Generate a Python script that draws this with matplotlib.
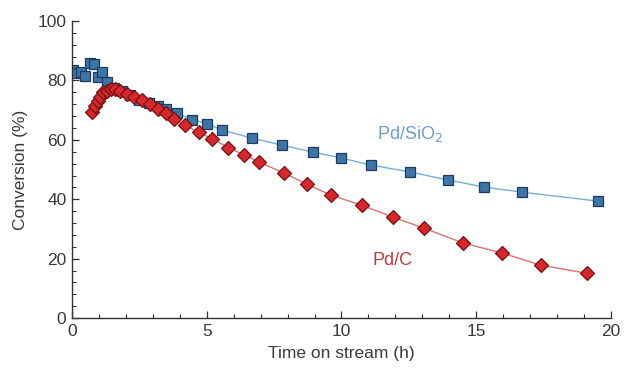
import matplotlib
matplotlib.use("Agg")
import matplotlib.pyplot as plt
from matplotlib.ticker import MultipleLocator

plt.rcParams['font.family'] = ['Liberation Sans', 'DejaVu Sans']

# Pd/SiO2 (blue squares)
sio2_t = [0.05, 0.2, 0.35, 0.5, 0.65, 0.8, 0.95, 1.1, 1.3, 1.55, 1.85, 2.15, 2.5,
          2.85, 3.2, 3.5, 3.9, 4.45, 5.0, 5.57, 6.68, 7.8, 8.93, 10.0, 11.1,
          12.55, 13.95, 15.3, 16.7, 19.5]
sio2_v = [83.5, 82.5, 83.0, 81.5, 86.0, 85.5, 81.0, 83.0, 79.5, 77.5, 76.5, 75.0, 73.5,
          72.5, 71.5, 70.5, 69.0, 66.8, 65.5, 63.3, 60.6, 58.2, 55.9, 53.9, 51.5,
          49.2, 46.5, 44.1, 42.4, 39.4]

# Pd/C (red diamonds)
c_t = [0.75, 0.85, 0.95, 1.05, 1.15, 1.3, 1.45, 1.6, 1.8, 2.05, 2.3, 2.6, 2.9, 3.2,
       3.5, 3.8, 4.2, 4.7, 5.2, 5.8, 6.4, 6.95, 7.87, 8.72, 9.6, 10.76, 11.9, 13.06,
       14.5, 15.96, 17.4, 19.1]
c_v = [69.5, 71.5, 73.0, 74.5, 76.0, 76.5, 77.0, 77.0, 76.5, 75.5, 74.5, 73.5, 72.0,
       70.5, 69.0, 67.0, 65.0, 62.5, 60.4, 57.4, 54.9, 52.5, 48.8, 45.1, 41.4, 38.0,
       34.0, 30.3, 25.3, 21.9, 17.8, 15.1]

line_start_sio2 = 8  # the trend line starts after the early scatter

fig = plt.figure(figsize=(6.26, 3.76), dpi=100)
ax = fig.add_axes([0.115, 0.154, 0.861, 0.79])

ax.plot(sio2_t[line_start_sio2:], sio2_v[line_start_sio2:], '-', color='#7aaed8', lw=1.0, zorder=1)
ax.plot(c_t, c_v, '-', color='#e07070', lw=1.0, zorder=1)

ax.plot(sio2_t, sio2_v, 's', ms=7.6, mfc='#3d75a6', mec='#1d3d5e', mew=0.9, ls='none', zorder=3)
ax.plot(c_t, c_v, 'D', ms=7.3, mfc='#d8262a', mec='#6e1414', mew=0.9, ls='none', zorder=4)

ax.text(12.55, 62, 'Pd/SiO$_2$', color='#6f9fcb', fontsize=13, ha='center', va='center')
ax.text(11.9, 19.5, 'Pd/C', color='#c8393b', fontsize=13, ha='center', va='center')

ax.set_xlim(0, 20)
ax.set_ylim(0, 100)
ax.xaxis.set_major_locator(MultipleLocator(5))
ax.xaxis.set_minor_locator(MultipleLocator(1))
ax.yaxis.set_major_locator(MultipleLocator(20))
ax.yaxis.set_minor_locator(MultipleLocator(4))

for s in ['top', 'right']:
    ax.spines[s].set_visible(False)
for s in ['left', 'bottom']:
    ax.spines[s].set_color('#333333')
    ax.spines[s].set_linewidth(1.0)
    ax.spines[s].set_zorder(5)

ax.tick_params(which='both', direction='in', colors='#333333', labelsize=12.5, labelcolor='#3a3a3a')
ax.tick_params(which='major', length=5, width=0.9, pad=4)
ax.tick_params(which='minor', length=3, width=0.8)

ax.set_xlabel('Time on stream (h)', fontsize=12.5, color='#3a3a3a', labelpad=5)
ax.set_ylabel('Conversion (%)', fontsize=12.5, color='#3a3a3a', labelpad=7)

fig.savefig('out.png', dpi=100, facecolor='white')
